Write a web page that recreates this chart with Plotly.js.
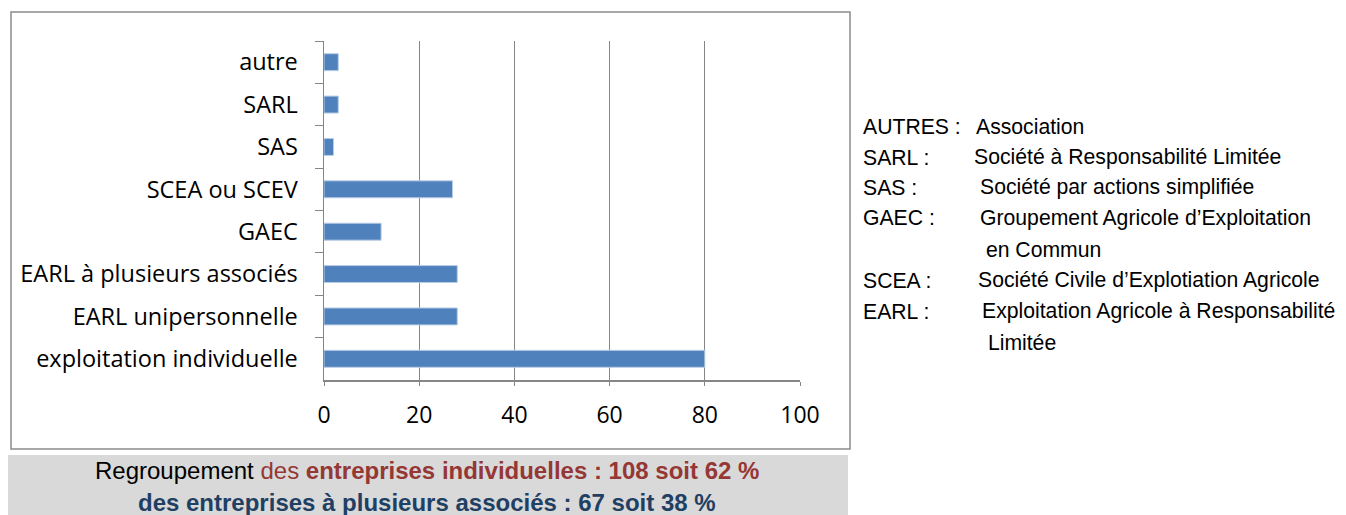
<!DOCTYPE html>
<html>
<head>
<meta charset="utf-8">
<script src="https://cdn.plot.ly/plotly-3.0.1.min.js"></script>
<style>html,body{margin:0;padding:0;background:#fff;}#chart{width:1346px;height:515px;}</style>
</head>
<body>
<div id="chart"></div>
<script>
// Data (top to bottom as displayed)
const categories = ["autre", "SARL", "SAS", "SCEA ou SCEV", "GAEC", "EARL à plusieurs associés", "EARL unipersonnelle", "exploitation individuelle"];
const counts = [3, 3, 2, 27, 12, 28, 28, 80];
const xTicks = [0, 20, 40, 60, 80, 100];

const defTerms = ["AUTRES :", "SARL :", "SAS :", "GAEC :", "", "SCEA :", "EARL :", ""];
const defTexts = ["Association", "Société à Responsabilité Limitée", "Société par actions simplifiée", "Groupement Agricole d’Exploitation", " en Commun", "Société Civile d’Explotiation Agricole", "Exploitation Agricole à Responsabilité", " Limitée"];
const summaryLine1 = 'Regroupement <span style="color:#953735">des <b>entreprises individuelles : 108 soit 62 %</b></span>';
const summaryLine2 = '<b>des entreprises à plusieurs associés : 67 soit 38 %</b>';

// layout geometry (pixels)
const W = 1346, H = 515;
const L = 324, R = 800, T = 41, B = 380;
const px = x => (x - L) / (R - L);
const py = y => (B - y) / (B - T);

const defX1 = [861, 861, 861, 861, 861, 861, 861, 861];
const defX2 = [974, 972, 978, 978, 978, 976, 980, 980];
const defY = [126, 157, 187, 218, 249, 280, 311, 342];

const defFont = {family:'Liberation Sans, Arial, sans-serif', size:21.2, color:'#000'};
const annotations = [];
defTerms.forEach((t, i) => {
  if (t) annotations.push({xref:'paper', yref:'paper', x:px(defX1[i]), y:py(defY[i]), xanchor:'left', yanchor:'middle', text:t, showarrow:false, font:defFont});
  annotations.push({xref:'paper', yref:'paper', x:px(defX2[i]), y:py(defY[i]), xanchor:'left', yanchor:'middle', text:defTexts[i], showarrow:false, font:defFont});
});
annotations.push({xref:'paper', yref:'paper', x:px(427), y:py(471), xanchor:'center', yanchor:'middle', text:summaryLine1, showarrow:false, font:{family:'Liberation Sans Narrow, Arial Narrow, Liberation Sans, sans-serif', size:24, color:'#000'}});
annotations.push({xref:'paper', yref:'paper', x:px(427), y:py(502), xanchor:'center', yanchor:'middle', text:summaryLine2, showarrow:false, font:{family:'Liberation Sans Narrow, Arial Narrow, Liberation Sans, sans-serif', size:24, color:'#1F3F63'}});

const shapes = [
  {type:'rect', xref:'paper', yref:'paper', x0:px(11), x1:px(850), y0:py(12), y1:py(449), line:{color:'#8c8c8c', width:1.5}, fillcolor:'rgba(0,0,0,0)', layer:'below'},
  {type:'rect', xref:'paper', yref:'paper', x0:px(8), x1:px(848), y0:py(455), y1:py(520), line:{width:0}, fillcolor:'#d9d9d9', layer:'below'}
];

const data = [{
  type:'bar', orientation:'h',
  y: categories, x: counts,
  width: 0.4,
  marker:{color:'#4F81BD', line:{color:'#B9CDE5', width:1}},
  hoverinfo:'x+y'
}];

const layout = {
  width: W, height: H,
  margin:{l:L, r:W-R, t:T, b:H-B, pad:0},
  paper_bgcolor:'#fff', plot_bgcolor:'#fff',
  showlegend:false,
  bargap:0.6,
  xaxis:{
    range:[0,100], tickvals:xTicks, ticktext:xTicks.map(String),
    showgrid:true, gridcolor:'#868686', gridwidth:1.2,
    zeroline:false, showline:true, linecolor:'#868686', linewidth:1.5,
    ticks:'outside', ticklen:4, tickcolor:'#868686',
    ticklabelstandoff:10,
    tickfont:{family:'Open Sans, Lato, sans-serif', size:23, color:'#000'},
    fixedrange:true
  },
  yaxis:{
    autorange:'reversed', type:'category',
    showgrid:false, zeroline:false,
    showline:true, linecolor:'#868686', linewidth:1.5,
    ticks:'outside', tickson:'boundaries', ticklen:8, tickcolor:'#868686',
    ticklabelstandoff:20,
    tickfont:{family:'Open Sans, Lato, sans-serif', size:23.5, color:'#000'},
    fixedrange:true
  },
  shapes: shapes,
  annotations: annotations
};

Plotly.newPlot('chart', data, layout, {displayModeBar:false, staticPlot:true});
</script>
</body>
</html>
